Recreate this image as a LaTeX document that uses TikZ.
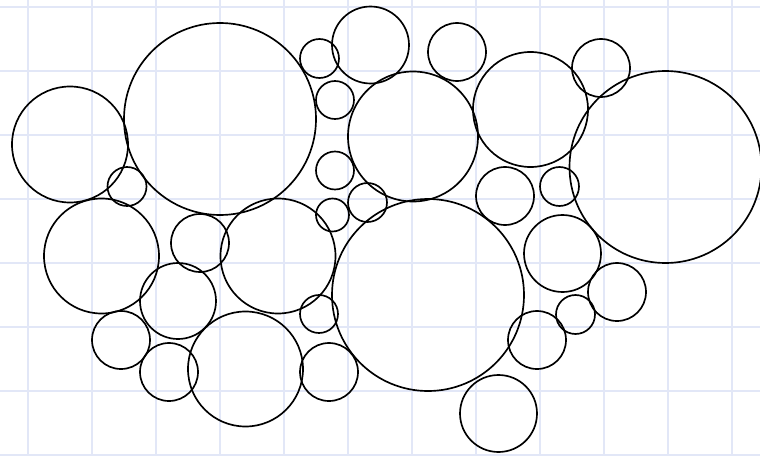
\documentclass[tikz,border=0pt]{standalone}
\definecolor{gridblue}{RGB}{226, 231, 247}
\usepackage{tikz}

\begin{document}
\begin{tikzpicture}[
        x=0.02cm, y=-0.02cm,
        gridline/.style={draw=gridblue, line width=1.3pt},
        bubble/.style={draw=black, line width=0.95pt}
      ]
      \useasboundingbox (0,0) rectangle (760,456);
      % background grid
      \foreach \gx in {28,92,...,732}
        \draw[gridline] (\gx,0) -- (\gx,456);
      \foreach \gy in {7,71,...,455}
        \draw[gridline] (0,\gy) -- (760,\gy);
      % circles: x, y, radius
      \foreach \cx/\cy/\cr in {
          70/144.5/58, 220/119/96, 319.5/58.5/19.5, 370.5/45/38.5,
          457/52/29, 335/100/19, 413/136.5/65, 530.5/109.5/57.5,
          601/68/29, 665.5/167/96, 127/186.5/19.5, 335/170.5/19,
          367.5/202.5/19.5, 332.5/215/16.5, 505/196/29, 559.5/186.5/19.5,
          101.5/256/57.5, 200/243/29, 278/256/57.5, 428/295/96,
          562.5/253.5/38.5, 178/301/38, 617/292/29, 319/314/19,
          575.5/314.5/19.5, 121/340/29, 245.5/369/57.5, 169/372/29,
          329/372/29, 537/340/29, 498.5/413.5/38.5}
        \draw[bubble] (\cx,\cy) circle[radius=\cr];
    \end{tikzpicture}
\end{document}
